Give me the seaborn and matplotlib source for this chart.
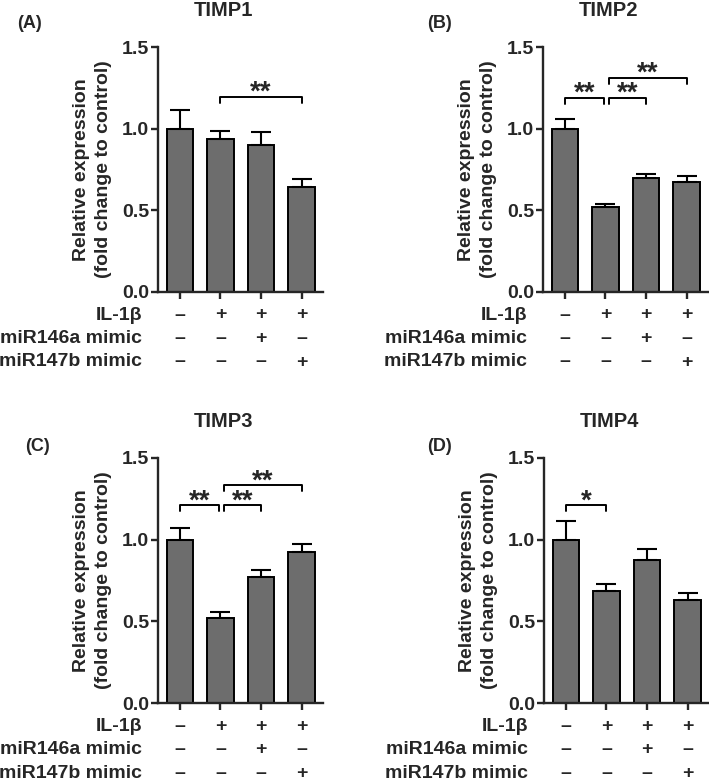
import numpy as np
import pandas as pd
import matplotlib
matplotlib.use("Agg")
import matplotlib.pyplot as plt
import seaborn as sns

sns.set_style("ticks")
plt.rcParams["font.family"] = ["Liberation Sans", "DejaVu Sans"]
plt.rcParams["font.weight"] = "bold"

# data
titles = ["TIMP1", "TIMP2", "TIMP3", "TIMP4"]
panel_tags = ["(A)", "(B)", "(C)", "(D)"]
groups = ["g1", "g2", "g3", "g4"]
means = [
    [1.00, 0.935, 0.90, 0.645],
    [1.00, 0.52, 0.695, 0.672],
    [1.00, 0.523, 0.769, 0.922],
    [1.00, 0.686, 0.877, 0.631],
]
sems = [
    [0.115, 0.052, 0.08, 0.045],
    [0.06, 0.021, 0.027, 0.04],
    [0.069, 0.035, 0.045, 0.049],
    [0.113, 0.041, 0.063, 0.045],
]
# significance brackets: (left group, right group, height, label)
brackets = [
    [(1, 3, 1.195, "**")],
    [(0, 1, 1.19, "**"), (1, 2, 1.19, "**"), (1, 3, 1.312, "**")],
    [(0, 1, 1.21, "**"), (1, 2, 1.21, "**"), (1, 3, 1.333, "**")],
    [(0, 1, 1.21, "*")],
]
row_names = ["IL-1\u03b2", "miR146a mimic", "miR147b mimic"]
row_signs = [
    ["\u2013", "+", "+", "+"],
    ["\u2013", "\u2013", "+", "\u2013"],
    ["\u2013", "\u2013", "\u2013", "+"],
]

W, H = 709, 782
fig = plt.figure(figsize=(W / 100, H / 100), dpi=100)

# axes boxes in pixels: left, top(1.5), width, height
boxes = [(158, 47, 165, 245), (543, 47, 165, 245),
         (158, 457.7, 165, 245.6), (544, 457.7, 165, 245.6)]
tag_x = [-0.855, -0.703, -0.806, -0.709]
tag_y = [1.094, 1.094, 1.045, 1.045]
title_y = [1.151, 1.151, 1.147, 1.147]

fs = 14
for i in range(4):
    l, t, w, h = boxes[i]
    ax = fig.add_axes([l / W, 1 - (t + h) / H, w / W, h / H])
    df = pd.DataFrame({"group": groups, "value": means[i]})
    sns.barplot(data=df, x="group", y="value", color="#6d6d6d",
                saturation=1, edgecolor="black", linewidth=1.4,
                width=0.66, errorbar=None, ax=ax)
    x = np.arange(len(groups))
    ax.errorbar(x, means[i], yerr=[np.zeros(4), sems[i]], fmt="none",
                ecolor="black", elinewidth=1.5, capsize=7, capthick=1.5,
                zorder=1)
    ax.set_xlim(-0.54, 3.53)
    ax.set_ylim(0, 1.5)
    ax.set_yticks([0, 0.5, 1.0, 1.5])
    ax.set_yticklabels(["0.0", "0.5", "1.0", "1.5"])
    ax.set_xticks(x)
    ax.set_xticklabels([])
    ax.set_xlabel("")
    ax.set_ylabel("Relative expression\n(fold change to control)",
                  fontsize=fs, fontweight="bold", va="center",
                  linespacing=1.35)
    ax.yaxis.set_label_coords(-0.398, 0.5)
    sns.despine(ax=ax)
    for s in ["left", "bottom"]:
        ax.spines[s].set_linewidth(1.7)
    ax.tick_params(axis="both", width=1.7, length=5, labelsize=fs, pad=1.5)
    for lab in ax.get_yticklabels():
        lab.set_fontweight("bold")

    ax.text(0.394, title_y[i], titles[i], transform=ax.transAxes,
            ha="center", va="center", fontsize=fs + 0.5, fontweight="bold")
    ax.text(tag_x[i], tag_y[i], panel_tags[i], transform=ax.transAxes,
            ha="left", va="center", fontsize=fs - 1, fontweight="bold")

    # significance brackets
    starts = [b[0] for b in brackets[i]]
    for (a, b, y, lab) in brackets[i]:
        xa = a + 0.08 if a in [bb[1] for bb in brackets[i]] else a
        xb = b - 0.04 if b in starts else b
        ax.plot([xa, xa, xb, xb], [y - 0.037, y, y, y - 0.037],
                color="black", lw=1.4, clip_on=False)
        ax.text((xa + xb) / 2, y - 0.02, lab, ha="center", va="baseline",
                fontsize=20, fontweight="bold")

    # treatment rows under the x axis
    trans = ax.get_xaxis_transform()
    for r, name in enumerate(row_names):
        yy = -(23 + r * 23.5) / h
        ax.text(-0.097, yy, name, transform=ax.transAxes, ha="right",
                va="center", fontsize=fs, fontweight="bold", clip_on=False)
        for j, sgn in enumerate(row_signs[r]):
            ax.text(j, yy, sgn, transform=trans, ha="center", va="center",
                    fontsize=fs, fontweight="bold", clip_on=False)

fig.savefig("out.png", dpi=100)
